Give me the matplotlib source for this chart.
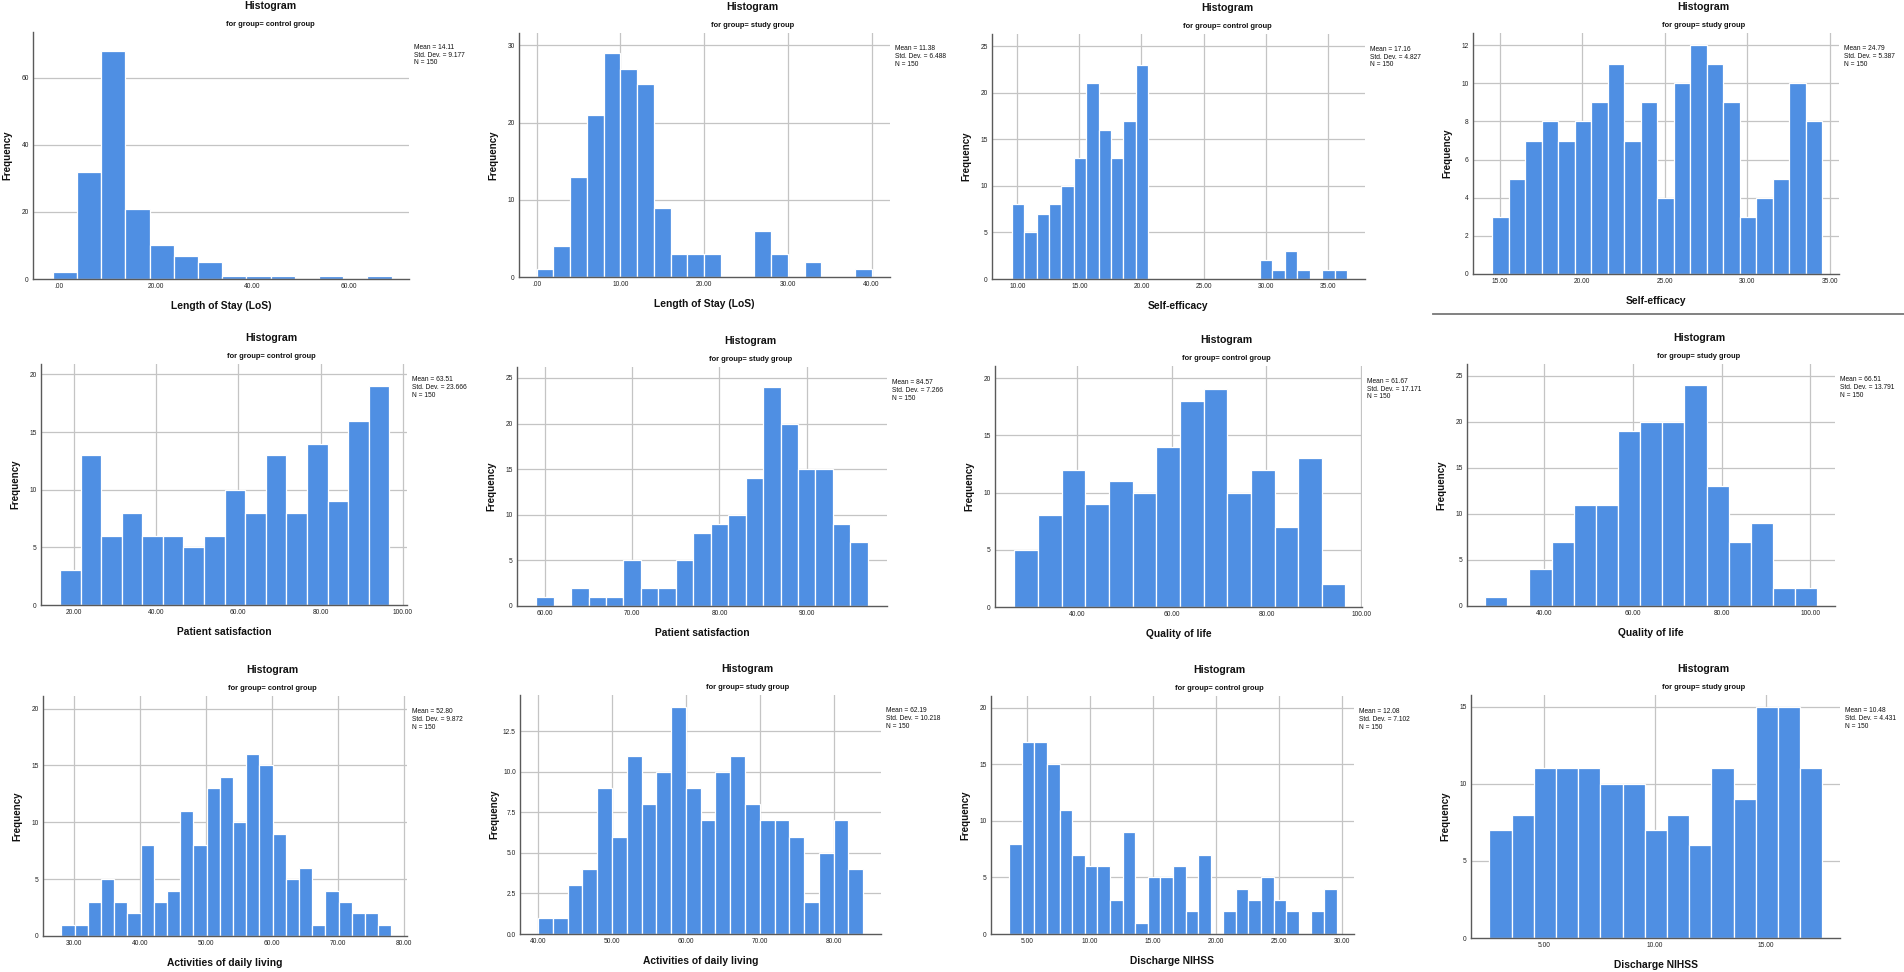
import matplotlib
matplotlib.use("Agg")
import matplotlib.pyplot as plt
from matplotlib.lines import Line2D
import numpy as np

plt.rcParams['font.family'] = ['Liberation Sans', 'DejaVu Sans']

# ---------------- data ----------------
groups = ["control group", "study group"] * 6
variables = ["Length of Stay (LoS)", "Length of Stay (LoS)", "Self-efficacy", "Self-efficacy",
             "Patient satisfaction", "Patient satisfaction", "Quality of life", "Quality of life",
             "Activities of daily living", "Activities of daily living",
             "Discharge NIHSS", "Discharge NIHSS"]

bin_start = [-1.2, 0.0, 9.55, 14.55, 16.7, 59.0, 26.7, 26.6, 28.1, 40.0, 3.57, 2.54]
bin_width = [5, 2, 1, 1, 5, 2, 5, 5, 2, 2, 1, 1]

counts_los_c = [2, 32, 68, 21, 10, 7, 5, 1, 1, 1, 0, 1, 0, 1]
counts_los_s = [1, 4, 13, 21, 29, 27, 25, 9, 3, 3, 3, 0, 0, 6, 3, 0, 2, 0, 0, 1]
counts_se_c = [8, 5, 7, 8, 10, 13, 21, 16, 13, 17, 23, 0, 0, 0, 0, 0, 0, 0, 0, 0, 2, 1, 3, 1, 0, 1, 1]
counts_se_s = [3, 5, 7, 8, 7, 8, 9, 11, 7, 9, 4, 10, 12, 11, 9, 3, 4, 5, 10, 8]
counts_ps_c = [3, 13, 6, 8, 6, 6, 5, 6, 10, 8, 13, 8, 14, 9, 16, 19]
counts_ps_s = [1, 0, 2, 1, 1, 5, 2, 2, 5, 8, 9, 10, 14, 24, 20, 15, 15, 9, 7]
counts_qol_c = [5, 8, 12, 9, 11, 10, 14, 18, 19, 10, 12, 7, 13, 2]
counts_qol_s = [1, 0, 4, 7, 11, 11, 19, 20, 20, 24, 13, 7, 9, 2, 2]
counts_adl_c = [1, 1, 3, 5, 3, 2, 8, 3, 4, 11, 8, 13, 14, 10, 16, 15, 9, 5, 6, 1, 4, 3, 2, 2, 1]
counts_adl_s = [1, 1, 3, 4, 9, 6, 11, 8, 10, 14, 9, 7, 10, 11, 8, 7, 7, 6, 2, 5, 7, 4]
counts_nihss_c = [8, 17, 17, 15, 11, 7, 6, 6, 3, 9, 1, 5, 5, 6, 2, 7, 0, 2, 4, 3, 5, 3, 2, 0, 2, 4]
counts_nihss_s = [7, 8, 11, 11, 11, 10, 10, 7, 8, 6, 11, 9, 15, 15, 11]

counts = [counts_los_c, counts_los_s, counts_se_c, counts_se_s, counts_ps_c, counts_ps_s,
          counts_qol_c, counts_qol_s, counts_adl_c, counts_adl_s, counts_nihss_c, counts_nihss_s]

means = ["14.11", "11.38", "17.16", "24.79", "63.51", "84.57", "61.67", "66.51", "52.80", "62.19", "12.08", "10.48"]
sds = ["9.177", "6.488", "4.827", "5.387", "23.666", "7.266", "17.171", "13.791", "9.872", "10.218", "7.102", "4.431"]
n_vals = ["150"] * 12

x_ticks = [[0, 20, 40, 60], [0, 10, 20, 30, 40], [10, 15, 20, 25, 30, 35], [15, 20, 25, 30, 35],
           [20, 40, 60, 80, 100], [60, 70, 80, 90], [40, 60, 80, 100], [40, 60, 80, 100],
           [30, 40, 50, 60, 70, 80], [40, 50, 60, 70, 80], [5, 10, 15, 20, 25, 30], [5, 10, 15]]
y_ticks = [[0, 20, 40, 60], [0, 10, 20, 30], [0, 5, 10, 15, 20, 25], [0, 2, 4, 6, 8, 10, 12],
           [0, 5, 10, 15, 20], [0, 5, 10, 15, 20, 25], [0, 5, 10, 15, 20], [0, 5, 10, 15, 20, 25],
           [0, 5, 10, 15, 20], [0, 2.5, 5.0, 7.5, 10.0, 12.5], [0, 5, 10, 15, 20], [0, 5, 10, 15]]
y_decimals = [0, 0, 0, 0, 0, 0, 0, 0, 0, 1, 0, 0]

# ---------------- layout (pixels) ----------------
W, H = 1904, 972
rects = [(33, 32, 409, 279), (519, 33, 890, 277), (992, 34, 1365, 279), (1473, 33, 1839, 274),
         (41, 364, 407, 605), (517, 367, 887, 606), (995, 366, 1362, 607), (1467, 364, 1835, 606),
         (43, 696, 407, 936), (520, 695, 881, 934), (991, 696, 1354, 934), (1471, 695, 1840, 938)]
xlims = [(-5.3, 72.4), (-2.1, 42.2), (7.96, 38.0), (13.39, 35.55), (12.1, 101.0), (56.8, 99.2),
         (22.6, 100.2), (22.5, 105.6), (25.3, 80.45), (37.56, 86.4), (2.12, 30.95), (1.71, 18.33)]
ylims = [73.6, 31.6, 26.3, 12.64, 20.9, 26.2, 21.05, 26.3, 21.1, 14.74, 21.06, 15.76]
vgrid = [False] + [True] * 11

bar_color = '#4F8FE3'
grid_color = '#c4c4c4'
spine_color = '#5a5a5a'
narrow = ['Liberation Sans Narrow', 'Liberation Sans', 'DejaVu Sans']

fig = plt.figure(figsize=(W / 100, H / 100), dpi=100)
fig.patch.set_facecolor('white')


def fx(px):
    return px / W


def fy(py):
    return 1 - py / H


def fmt_x(v):
    s = f"{v:.2f}"
    if s.startswith("0."):
        s = s[1:]
    return s


for i in range(12):
    l, t, r, b = rects[i]
    ax = fig.add_axes([fx(l), fy(b), (r - l) / W, (b - t) / H])
    edges = bin_start[i] + bin_width[i] * np.arange(len(counts[i]))
    ax.bar(edges, counts[i], width=bin_width[i], align='edge', color=bar_color,
           edgecolor='white', linewidth=0.9, zorder=3)
    ax.set_xlim(*xlims[i])
    ax.set_ylim(0, ylims[i])
    ax.set_xticks(x_ticks[i])
    ax.set_xticklabels([fmt_x(v) for v in x_ticks[i]], fontsize=4.8, family=narrow, color='#222222')
    ax.set_yticks(y_ticks[i])
    ax.set_yticklabels([f"{v:.{y_decimals[i]}f}" for v in y_ticks[i]], fontsize=4.8, family=narrow,
                       color='#222222')
    ax.tick_params(length=0, pad=3)
    for yv in y_ticks[i][1:]:
        ax.axhline(yv, color=grid_color, lw=0.9, zorder=1)
    if vgrid[i]:
        for xv in x_ticks[i]:
            ax.axvline(xv, color=grid_color, lw=0.9, zorder=1)
    for s in ['top', 'right']:
        ax.spines[s].set_visible(False)
    for s in ['left', 'bottom']:
        ax.spines[s].set_color(spine_color)
        ax.spines[s].set_linewidth(1.0)
        ax.spines[s].set_zorder(4)
    ax.set_facecolor('white')

    cx = l + 0.63 * (r - l)
    fig.text(fx(cx), fy(t - 26), "Histogram", ha='center', va='center', fontsize=7.6,
             fontweight='bold', color='#111111')
    fig.text(fx(cx), fy(t - 7.5), "for group= " + groups[i], ha='center', va='center',
             fontsize=5.4, fontweight='bold', color='#111111')
    fig.text(fx(r + 5), fy(t + 12), f"Mean = {means[i]}\nStd. Dev. = {sds[i]}\nN = {n_vals[i]}",
             ha='left', va='top', fontsize=4.8, family=narrow, color='#111111', linespacing=1.15)
    fig.text(fx(l - 26), fy((t + b) / 2), "Frequency", ha='center', va='center', rotation=90,
             fontsize=7.0, fontweight='bold', color='#111111')
    fig.text(fx((l + r) / 2), fy(b + 27), variables[i], ha='center', va='center', fontsize=7.4,
             fontweight='bold', color='#111111')

# separator line under the upper-right panel
fig.add_artist(Line2D([fx(1433), fx(1904)], [fy(314), fy(314)], color='#777777', lw=1.3,
                      transform=fig.transFigure))

fig.savefig("out.png", dpi=100, facecolor='white')
